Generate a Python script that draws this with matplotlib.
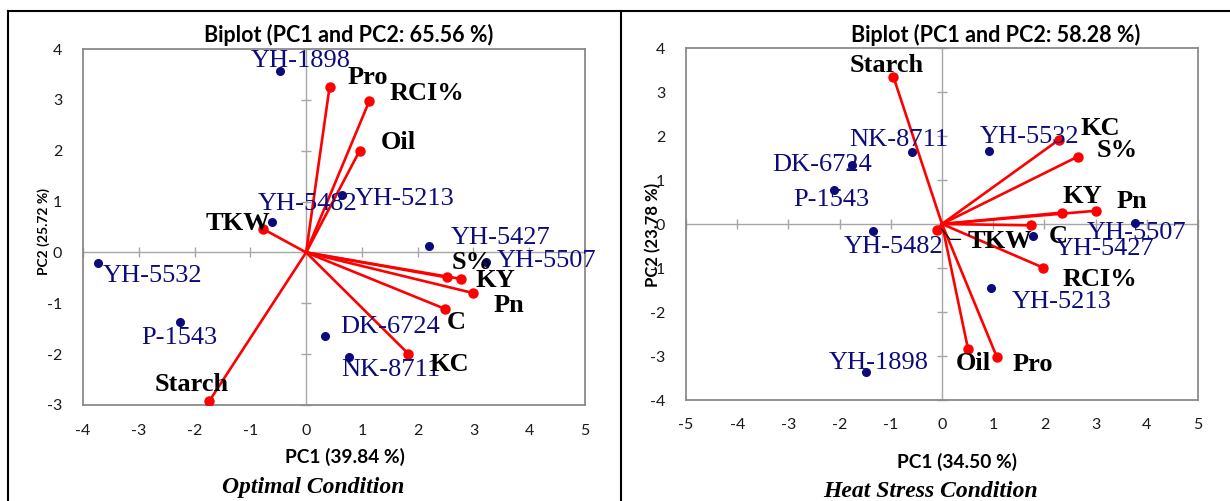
import matplotlib
matplotlib.use("Agg")
import matplotlib.pyplot as plt
from matplotlib.lines import Line2D

# ---------------- data ----------------
# Optimal condition
opt_genotypes = ["YH-1898", "YH-5213", "YH-5482", "YH-5427", "YH-5507",
                 "YH-5532", "P-1543", "DK-6724", "NK-8711"]
opt_geno_pc1 = [-0.46, 0.65, -0.62, 2.20, 3.23, -3.73, -2.26, 0.33, 0.76]
opt_geno_pc2 = [3.57, 1.13, 0.59, 0.12, -0.18, -0.20, -1.36, -1.65, -2.06]

opt_vars = ["Pro", "RCI%", "Oil", "TKW", "S%", "KY", "Pn", "C", "KC", "Starch"]
opt_var_pc1 = [0.42, 1.13, 0.96, -0.77, 2.52, 2.77, 3.00, 2.49, 1.83, -1.74]
opt_var_pc2 = [3.25, 2.97, 2.00, 0.46, -0.49, -0.52, -0.80, -1.11, -1.99, -2.93]

# Heat stress condition
heat_genotypes = ["NK-8711", "YH-5532", "DK-6724", "P-1543", "YH-5482",
                  "YH-5507", "YH-5427", "YH-5213", "YH-1898"]
heat_geno_pc1 = [-0.59, 0.92, -1.76, -2.10, -1.34, 3.76, 1.77, 0.96, -1.48]
heat_geno_pc2 = [1.64, 1.67, 1.33, 0.77, -0.17, 0.03, -0.27, -1.46, -3.37]

heat_vars = ["Starch", "KC", "S%", "KY", "Pn", "C", "TKW", "RCI%", "Oil", "Pro"]
heat_var_pc1 = [-0.95, 2.29, 2.65, 2.35, 3.00, 1.74, -0.09, 1.97, 0.51, 1.07]
heat_var_pc2 = [3.35, 1.92, 1.53, 0.26, 0.30, -0.03, -0.13, -0.99, -2.85, -3.02]

opt_title = "Biplot (PC1 and PC2: 65.56 %)"
opt_xlabel = "PC1 (39.84 %)"
opt_ylabel = "PC2 (25.72 %)"
opt_caption = "Optimal Condition"
heat_title = "Biplot (PC1 and PC2: 58.28 %)"
heat_xlabel = "PC1 (34.50 %)"
heat_ylabel = "PC2 (23.78 %)"
heat_caption = "Heat Stress Condition"

opt_xticks = list(range(-4, 6))
opt_yticks = list(range(-3, 5))
heat_xticks = list(range(-5, 6))
heat_yticks = list(range(-4, 5))

# label offsets (layout, data units)
opt_geno_off = [(0.36, 0.19), (1.11, -0.08), (0.65, 0.36), (1.28, 0.17), (1.09, 0.02),
                (0.98, -0.27), (-0.02, -0.32), (1.17, 0.19), (0.76, -0.25)]
opt_var_off = [(0.69, 0.18), (1.03, 0.16), (0.69, 0.17), (-0.46, 0.10), (0.45, 0.29),
               (0.63, -0.03), (0.64, -0.25), (0.21, -0.27), (0.73, -0.22), (-0.32, 0.34)]
heat_geno_off = [(-0.25, 0.27), (0.80, 0.31), (-0.59, 0.0), (-0.06, -0.22), (0.39, -0.35),
                 (0.04, -0.24), (1.41, -0.30), (1.37, -0.31), (0.25, 0.20)]
heat_var_off = [(-0.14, 0.26), (0.81, 0.25), (0.78, 0.15), (0.40, 0.36), (0.71, 0.21),
                (0.54, -0.26), (1.22, -0.27), (1.11, -0.28), (0.10, -0.32), (0.71, -0.17)]

NAVY = "#0b0b7c"
RED = "#ff0000"
FRAME = "#8a8a8a"
ZERO = "#a6a6a6"
SERIF = ["Liberation Serif", "DejaVu Serif"]
SANS = ["Lato", "DejaVu Sans"]

fig = plt.figure(figsize=(12.30, 5.01), dpi=100)
W, H = 1230.0, 501.0


def panel(rect, gx, gy, gnames, goff, vx, vy, vnames, voff, xt, yt,
          title, tpos, xlabel, xlpos, ylabel, ylpos, ylsize, caption, cpos,
          xpad, ypad):
    l, t, r, b = rect
    ax = fig.add_axes([l / W, 1 - b / H, (r - l) / W, (b - t) / H])
    ax.set_xlim(xt[0], xt[-1])
    ax.set_ylim(yt[0], yt[-1])
    ax.set_xticks(xt)
    ax.set_yticks(yt)
    ax.set_xticklabels([str(v) for v in xt], fontfamily=SANS, fontsize=11.5, color="#1a1a1a")
    ax.set_yticklabels([str(v) for v in yt], fontfamily=SANS, fontsize=11.5, color="#1a1a1a")
    ax.tick_params(axis="x", length=0, pad=xpad)
    ax.tick_params(axis="y", length=0, pad=ypad)
    for s in ax.spines.values():
        s.set_color(FRAME)
        s.set_linewidth(1.3)
    # zero axes with crossing tick marks
    ax.axhline(0, color=ZERO, lw=1.0, zorder=1)
    ax.axvline(0, color=ZERO, lw=1.0, zorder=1)
    ax.plot(xt, [0] * len(xt), ls="none", marker="|", ms=7, mew=1.0, color=ZERO,
            zorder=1, clip_on=False)
    ax.plot([0] * len(yt), yt, ls="none", marker="_", ms=7, mew=1.0, color=ZERO,
            zorder=1, clip_on=False)
    # variable vectors
    for x, y in zip(vx, vy):
        ax.plot([0, x], [0, y], color=RED, lw=1.9, zorder=2, solid_capstyle="round")
    ax.plot(vx, vy, ls="none", marker="o", ms=6.5, color=RED, zorder=3)
    # genotypes
    ax.plot(gx, gy, ls="none", marker="o", ms=5.5, color=NAVY, zorder=3)
    for x, y, n, (dx, dy) in zip(gx, gy, gnames, goff):
        ax.text(x + dx, y + dy, n, color=NAVY, fontfamily=SERIF, fontsize=19,
                ha="center", va="center", zorder=4)
    for x, y, n, (dx, dy) in zip(vx, vy, vnames, voff):
        ax.text(x + dx, y + dy, n, color="black", fontfamily=SERIF, fontsize=19,
                fontweight="bold", ha="center", va="center", zorder=5)
    ax.text(tpos[0], tpos[1], title, transform=ax.transAxes, fontfamily=SANS,
            fontweight="bold", fontsize=15.5, ha="center", va="center")
    ax.text(xlpos[0], xlpos[1], xlabel, transform=ax.transAxes, fontfamily=SANS,
            fontweight="bold", fontsize=13.8, ha="center", va="center")
    ax.text(ylpos[0], ylpos[1], ylabel, transform=ax.transAxes, fontfamily=SANS,
            fontweight="bold", fontsize=ylsize, ha="center", va="center", rotation=90)
    ax.text(cpos[0], cpos[1], caption, transform=ax.transAxes, fontfamily=SERIF,
            fontweight="bold", fontstyle="italic", fontsize=17, ha="center", va="center")
    return ax


ax1 = panel((83, 49, 585, 405), opt_geno_pc1, opt_geno_pc2, opt_genotypes, opt_geno_off,
            opt_var_pc1, opt_var_pc2, opt_vars, opt_var_off, opt_xticks, opt_yticks,
            opt_title, (0.53, 1.04), opt_xlabel, (0.522, -0.146), opt_ylabel, (-0.078, 0.487),
            10, opt_caption, (0.459, -0.232), 14, 15)

ax2 = panel((686, 48, 1198, 400), heat_geno_pc1, heat_geno_pc2, heat_genotypes, heat_geno_off,
            heat_var_pc1, heat_var_pc2, heat_vars, heat_var_off, heat_xticks, heat_yticks,
            heat_title, (0.605, 1.037), heat_xlabel, (0.529, -0.175), heat_ylabel, (-0.0645, 0.469),
            12, heat_caption, (0.478, -0.26), 13, 15)

# TKW leader line (heat stress panel)
i = heat_vars.index("TKW")
tx, ty = heat_var_pc1[i], heat_var_pc2[i]
ax2.plot([tx + 0.08, tx + 0.25, tx + 0.45], [ty + 0.02, ty - 0.22, ty - 0.22],
         color="black", lw=0.9, zorder=4)

# table borders
bl = dict(color="black", lw=1.5)
fig.add_artist(Line2D([8 / W, 1.0], [1 - 11 / H, 1 - 11 / H], **bl))
fig.add_artist(Line2D([8 / W, 8 / W], [1 - 11 / H, 0], **bl))
fig.add_artist(Line2D([621 / W, 621 / W], [1 - 11 / H, 0], **bl))

fig.savefig("out.png", dpi=100)
